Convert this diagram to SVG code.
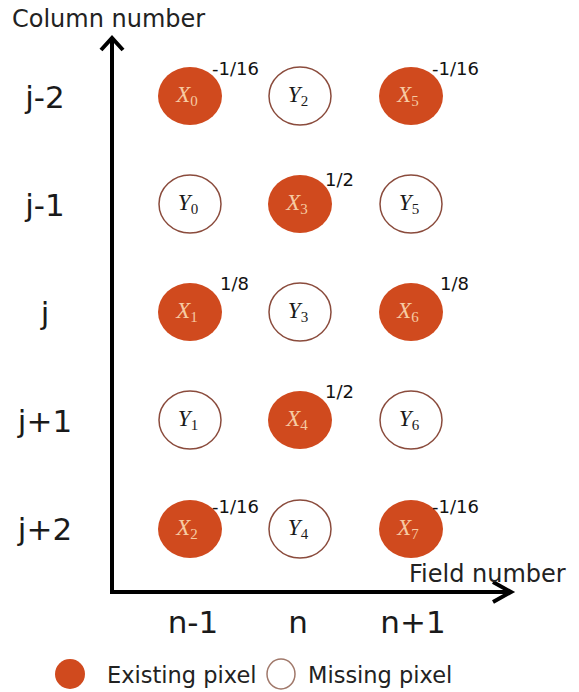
<svg xmlns="http://www.w3.org/2000/svg" width="579" height="692" viewBox="0 0 579 692">
<defs>
<style>
.ex{fill:#D04A1E;stroke:none}
.ms{fill:#ffffff;stroke:#8a4b3c;stroke-width:1.5}
.lx{font-family:"Liberation Serif",serif;font-style:italic;font-size:23px;fill:#f6cba3;text-anchor:middle}
.ly{font-family:"Liberation Serif",serif;font-style:italic;font-size:23px;fill:#1a1a1a;text-anchor:middle}
.sub{font-size:15px;font-style:normal}
.w{font-family:"DejaVu Sans",sans-serif;font-size:18px;fill:#111}
.big{font-family:"DejaVu Sans",sans-serif;font-size:31px;fill:#1a1a1a;text-anchor:middle}
.ax{font-family:"DejaVu Sans",sans-serif;font-size:24px;fill:#222}
.leg{font-family:"DejaVu Sans",sans-serif;font-size:22.5px;fill:#222}
.axis{fill:none;stroke:#000;stroke-width:4;stroke-linejoin:miter}
</style>
</defs>
<rect width="579" height="692" fill="#ffffff"/>
<g id="connectors">
<polyline class="axis" points="112,38 112,592 510,592"/>
<polyline class="axis" points="101,50 112,38 123,50"/>
<polyline class="axis" points="493,582 511,592 493,602"/>
</g>
<g id="axis-labels">
<text class="ax" x="12" y="27">Column number</text>
<text class="ax" x="409" y="582">Field number</text>
<text class="big" x="45" y="108">j-2</text>
<text class="big" x="45" y="216">j-1</text>
<text class="big" x="45" y="324">j</text>
<text class="big" x="45" y="432">j+1</text>
<text class="big" x="45" y="540">j+2</text>
<text class="big" x="193" y="633">n-1</text>
<text class="big" x="298" y="633">n</text>
<text class="big" x="413" y="633">n+1</text>
</g>
<g id="X0"><ellipse class="ex" cx="190" cy="96" rx="32" ry="29"/><text class="lx" x="187" y="102">X<tspan class="sub" dy="4">0</tspan></text><text class="w" x="212" y="75">-1/16</text></g>
<g id="Y2"><ellipse class="ms" cx="300" cy="96" rx="31" ry="29"/><text class="ly" x="298" y="102">Y<tspan class="sub" dy="4">2</tspan></text></g>
<g id="X5"><ellipse class="ex" cx="411" cy="96" rx="32" ry="29"/><text class="lx" x="408" y="102">X<tspan class="sub" dy="4">5</tspan></text><text class="w" x="432" y="75">-1/16</text></g>
<g id="Y0"><ellipse class="ms" cx="190" cy="204" rx="31" ry="29"/><text class="ly" x="188" y="210">Y<tspan class="sub" dy="4">0</tspan></text></g>
<g id="X3"><ellipse class="ex" cx="300" cy="204" rx="32" ry="29"/><text class="lx" x="297" y="210">X<tspan class="sub" dy="4">3</tspan></text><text class="w" x="325" y="186">1/2</text></g>
<g id="Y5"><ellipse class="ms" cx="411" cy="204" rx="31" ry="29"/><text class="ly" x="409" y="210">Y<tspan class="sub" dy="4">5</tspan></text></g>
<g id="X1"><ellipse class="ex" cx="190" cy="312" rx="32" ry="29"/><text class="lx" x="187" y="318">X<tspan class="sub" dy="4">1</tspan></text><text class="w" x="220" y="290">1/8</text></g>
<g id="Y3"><ellipse class="ms" cx="300" cy="312" rx="31" ry="29"/><text class="ly" x="298" y="318">Y<tspan class="sub" dy="4">3</tspan></text></g>
<g id="X6"><ellipse class="ex" cx="411" cy="312" rx="32" ry="29"/><text class="lx" x="408" y="318">X<tspan class="sub" dy="4">6</tspan></text><text class="w" x="440" y="290">1/8</text></g>
<g id="Y1"><ellipse class="ms" cx="190" cy="420" rx="31" ry="29"/><text class="ly" x="188" y="426">Y<tspan class="sub" dy="4">1</tspan></text></g>
<g id="X4"><ellipse class="ex" cx="300" cy="420" rx="32" ry="29"/><text class="lx" x="297" y="426">X<tspan class="sub" dy="4">4</tspan></text><text class="w" x="325" y="398">1/2</text></g>
<g id="Y6"><ellipse class="ms" cx="411" cy="420" rx="31" ry="29"/><text class="ly" x="409" y="426">Y<tspan class="sub" dy="4">6</tspan></text></g>
<g id="X2"><ellipse class="ex" cx="190" cy="529" rx="32" ry="29"/><text class="lx" x="187" y="535">X<tspan class="sub" dy="4">2</tspan></text><text class="w" x="212" y="513">-1/16</text></g>
<g id="Y4"><ellipse class="ms" cx="300" cy="529" rx="31" ry="29"/><text class="ly" x="298" y="535">Y<tspan class="sub" dy="4">4</tspan></text></g>
<g id="X7"><ellipse class="ex" cx="411" cy="529" rx="32" ry="29"/><text class="lx" x="408" y="535">X<tspan class="sub" dy="4">7</tspan></text><text class="w" x="432" y="513">-1/16</text></g>
<g id="legend">
<ellipse class="ex" cx="70" cy="674" rx="15" ry="15"/>
<text class="leg" x="107" y="683">Existing pixel</text>
<ellipse cx="281" cy="674" rx="14" ry="15" fill="#ffffff" stroke="#a0786a" stroke-width="1.5"/>
<text class="leg" x="308" y="683">Missing pixel</text>
</g>
</svg>
